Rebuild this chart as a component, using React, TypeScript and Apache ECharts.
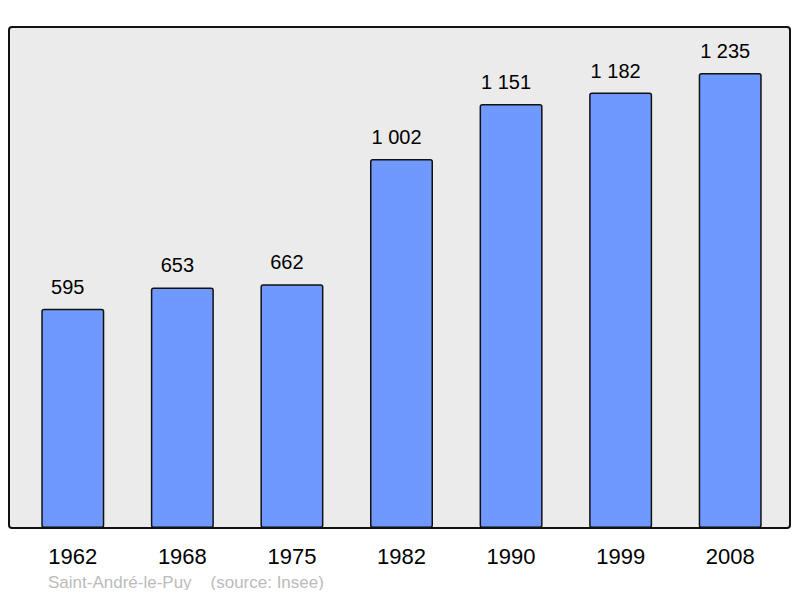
import { useEffect, useRef } from "react";
import * as echarts from "echarts";

const years = ["1962", "1968", "1975", "1982", "1990", "1999", "2008"];
const population = [595, 653, 662, 1002, 1151, 1182, 1235];
const townName = "Saint-André-le-Puy";
const sourceText = "(source: Insee)";

const fmt = (v: number) => String(v).replace(/\B(?=(\d{3})+(?!\d))/g, " ");

export default function App() {
  const chartRef = useRef<HTMLDivElement>(null);

  useEffect(() => {
    if (!chartRef.current) return;
    const chart = echarts.init(chartRef.current, null, { renderer: "svg" });
    chart.setOption({
      animation: false,
      textStyle: { fontFamily: "Liberation Sans" },
      grid: { left: 18, right: 15, top: 27, bottom: 70 },
      graphic: [
        {
          type: "rect",
          z: -10,
          shape: { x: 9, y: 27, width: 781, height: 501, r: 3 },
          style: { fill: "#ebebeb", stroke: "#111", lineWidth: 2 }
        },
        {
          type: "text",
          left: 48,
          top: 574,
          style: {
            text: townName + "    " + sourceText,
            fill: "#bbbbbb",
            fontSize: 17,
            fontFamily: "Liberation Sans"
          }
        }
      ],
      xAxis: {
        type: "category",
        data: years,
        axisLine: { show: false },
        axisTick: { show: false },
        axisLabel: { color: "#000", fontSize: 22, margin: 17 }
      },
      yAxis: {
        type: "value",
        min: 0,
        max: 1360,
        show: false,
        splitLine: { show: false }
      },
      series: [
        {
          type: "bar",
          data: population,
          barWidth: 63,
          itemStyle: {
            color: "#7099ff",
            borderColor: "#111",
            borderWidth: 1.5,
            borderRadius: 2
          },
          label: {
            show: true,
            position: "top",
            distance: 12,
            offset: [-5, 0],
            color: "#000",
            fontSize: 20,
            formatter: (p: any) => fmt(p.value)
          }
        }
      ]
    });
    return () => chart.dispose();
  }, []);

  return <div ref={chartRef} style={{ width: 800, height: 598, margin: -8 }} />;
}
